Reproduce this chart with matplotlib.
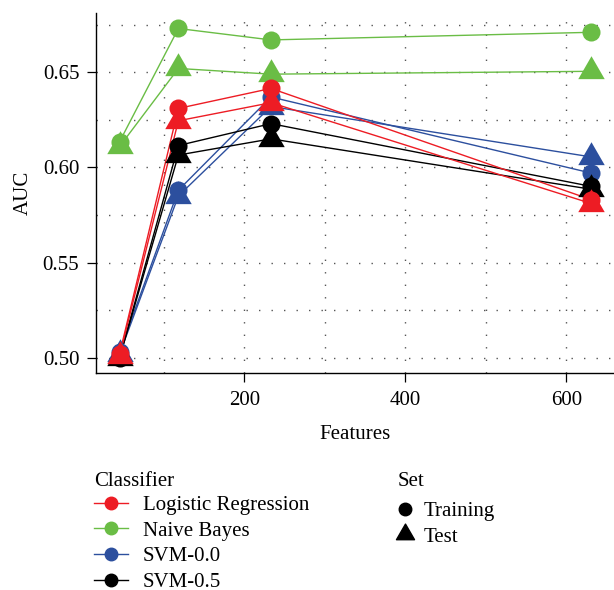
# AUC vs number of features, training and test sets per classifier

import matplotlib.pyplot as plt
from matplotlib.lines import Line2D
from matplotlib.path import Path
import numpy as np

plt.rcParams['font.family'] = ['Liberation Serif', 'DejaVu Serif']

# Data
features = [45, 118, 233, 631]
classifiers = ['Logistic Regression', 'Naive Bayes', 'SVM-0.0', 'SVM-0.5']
colors = ['#ED1C24', '#6ABD45', '#2C4F9E', '#000000']

train_auc = {
    'Logistic Regression': [0.502, 0.631, 0.6415, 0.583],
    'Naive Bayes': [0.6135, 0.673, 0.667, 0.671],
    'SVM-0.0': [0.503, 0.588, 0.637, 0.597],
    'SVM-0.5': [0.500, 0.6115, 0.623, 0.590],
}
test_auc = {
    'Logistic Regression': [0.501, 0.6245, 0.634, 0.581],
    'Naive Bayes': [0.611, 0.652, 0.649, 0.6505],
    'SVM-0.0': [0.502, 0.585, 0.632, 0.6055],
    'SVM-0.5': [0.500, 0.6065, 0.615, 0.5885],
}

# equilateral triangle like ggplot shape 17
tri = Path([(0, 0.577), (-0.5, -0.289), (0.5, -0.289), (0, 0.577)],
           [Path.MOVETO, Path.LINETO, Path.LINETO, Path.CLOSEPOLY])

FS = 15
W, H = 614, 590

fig = plt.figure(figsize=(6.14, 5.90), dpi=100)
ax = fig.add_axes([96 / W, 216.7 / H, 519 / W, 360.6 / H])

# lines first, points on top
draw_order = ['Naive Bayes', 'SVM-0.0', 'SVM-0.5', 'Logistic Regression']
for name in draw_order:
    c = colors[classifiers.index(name)]
    ax.plot(features, train_auc[name], color=c, lw=1.0, zorder=2)
    ax.plot(features, test_auc[name], color=c, lw=1.0, zorder=2)
for name in draw_order:
    c = colors[classifiers.index(name)]
    ax.plot(features, train_auc[name], ls='none', marker='o', ms=13,
            mfc=c, mec='none', zorder=3)
    ax.plot(features, test_auc[name], ls='none', marker=tri, ms=22,
            mfc=c, mec='none', zorder=3)

ax.set_xlim(15.7, 660.3)
ax.set_ylim(0.4918, 0.6813)
ax.set_xticks([200, 400, 600])
ax.set_xticks([100, 300, 500], minor=True)
ax.set_yticks([0.50, 0.55, 0.60, 0.65])
ax.set_yticks([0.525, 0.575, 0.625, 0.675], minor=True)
ax.set_yticklabels(['0.50', '0.55', '0.60', '0.65'])

# dotted grid on major and minor breaks
ax.grid(True, which='both', color='#555555', lw=1.0, ls=(0, (1, 8)), zorder=0)
ax.tick_params(which='major', length=6.5, width=0.9, labelsize=FS)
ax.tick_params(axis='y', pad=5.5)
ax.tick_params(axis='x', pad=6)
ax.tick_params(which='minor', length=0)

for s in ['top', 'right']:
    ax.spines[s].set_visible(False)
for s in ['left', 'bottom']:
    ax.spines[s].set_linewidth(1.0)

ax.set_xlabel('Features', fontsize=FS, labelpad=11)
ax.set_ylabel('AUC', fontsize=FS, labelpad=7)

# legends below the plot
fig.text(94 / W, 1 - 482 / H, 'Classifier', fontsize=FS, ha='left', va='center')
cls_handles = [Line2D([], [], color=c, lw=1.0, marker='o', ms=9) for c in colors]
fig.legend(cls_handles, classifiers, loc='upper left',
           bbox_to_anchor=(85.7 / W, 1 - 487 / H), frameon=False,
           fontsize=FS, handlelength=1.63, handletextpad=0.72,
           labelspacing=0.29, borderaxespad=0, borderpad=0.4)

fig.text(398 / W, 1 - 482 / H, 'Set', fontsize=FS, ha='left', va='center')
set_handles = [Line2D([], [], ls='none', color='black', marker='o', ms=9),
               Line2D([], [], ls='none', color='black', marker=tri, ms=15)]
fig.legend(set_handles, ['Training', 'Test'], loc='upper left',
           bbox_to_anchor=(388.4 / W, 1 - 493 / H), frameon=False,
           fontsize=FS, handlelength=0.8, handletextpad=0.51,
           labelspacing=0.29, borderaxespad=0, borderpad=0.4)

fig.savefig('out.png', dpi=100)
